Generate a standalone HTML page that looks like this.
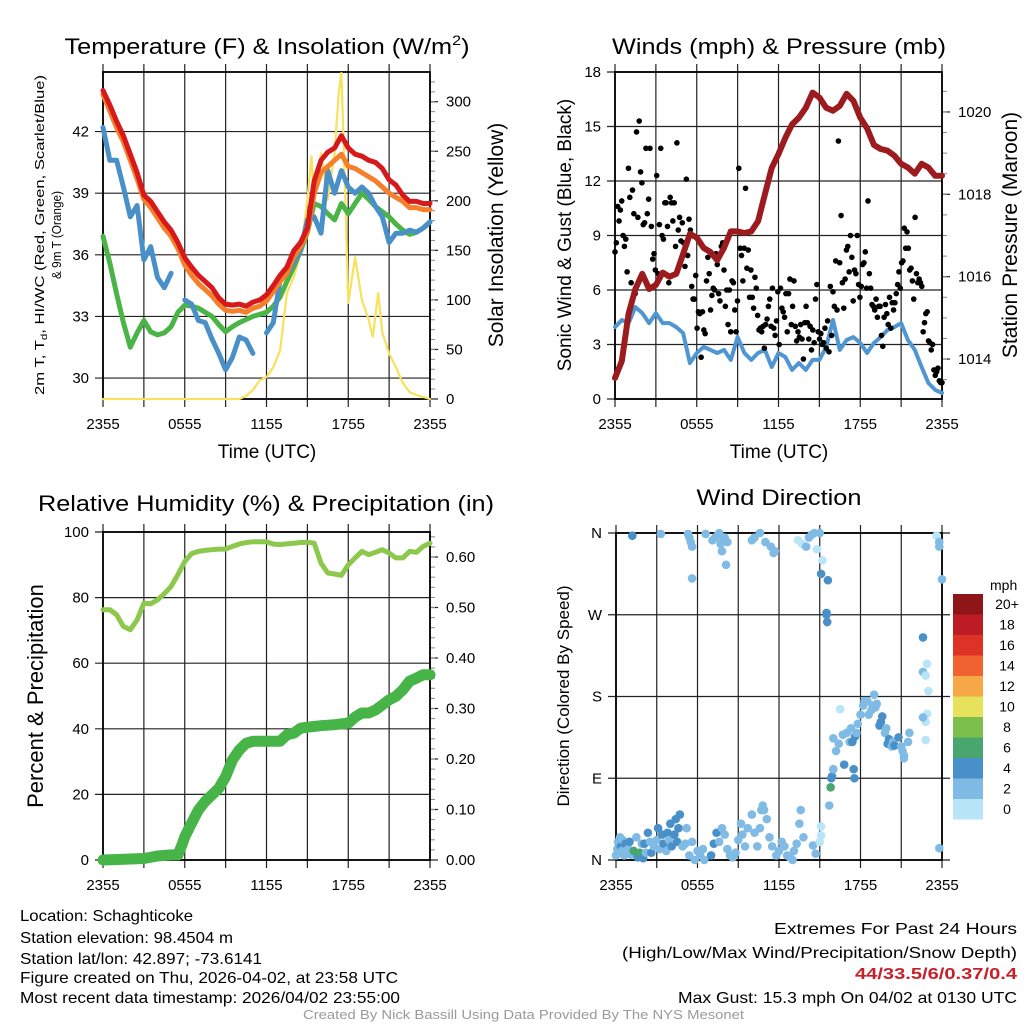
<!DOCTYPE html>
<html><head><meta charset="utf-8">
<style>
html,body{margin:0;padding:0;background:#fff;}
svg{display:block;font-family:"Liberation Sans",sans-serif;}
</style></head>
<body>
<svg id="fig" xmlns="http://www.w3.org/2000/svg" width="1024" height="1024" viewBox="0 0 1024 1024">
<rect x="0" y="0" width="1024" height="1024" fill="#fff"/>
<g id="layer"></g>
<text x="267" y="54" font-size="22" text-anchor="middle" textLength="405" lengthAdjust="spacingAndGlyphs">Temperature (F) &amp; Insolation (W/m<tspan font-size="14" dy="-9">2</tspan><tspan dy="9">)</tspan></text>
<text x="779" y="54" font-size="22" text-anchor="middle" textLength="334" lengthAdjust="spacingAndGlyphs">Winds (mph) &amp; Pressure (mb)</text>
<text x="266" y="511" font-size="22" text-anchor="middle" textLength="456" lengthAdjust="spacingAndGlyphs">Relative Humidity (%) &amp; Precipitation (in)</text>
<text x="779" y="505" font-size="22" text-anchor="middle" textLength="165" lengthAdjust="spacingAndGlyphs">Wind Direction</text>

<text transform="translate(44,235) rotate(-90)" font-size="13" text-anchor="middle" textLength="320" lengthAdjust="spacingAndGlyphs">2m T, T<tspan font-size="9" dy="3">d</tspan><tspan dy="-3">, HI/WC (Red, Green, Scarlet/Blue)</tspan></text>
<text transform="translate(61,235) rotate(-90)" font-size="13" text-anchor="middle" textLength="88" lengthAdjust="spacingAndGlyphs">&amp; 9m T (Orange)</text>
<text transform="translate(503,235) rotate(-90)" font-size="21" text-anchor="middle">Solar Insolation (Yellow)</text>
<text transform="translate(571,235) rotate(-90)" font-size="19" text-anchor="middle">Sonic Wind &amp; Gust (Blue, Black)</text>
<text transform="translate(1017,235) rotate(-90)" font-size="21" text-anchor="middle">Station Pressure (Maroon)</text>
<text transform="translate(43,696) rotate(-90)" font-size="22" text-anchor="middle">Percent &amp; Precipitation</text>
<text transform="translate(569,696) rotate(-90)" font-size="17" text-anchor="middle">Direction (Colored By Speed)</text>
<text x="267" y="458" font-size="19" text-anchor="middle">Time (UTC)</text>
<text x="779" y="458" font-size="19" text-anchor="middle">Time (UTC)</text>

<g font-size="16" lengthAdjust="spacingAndGlyphs">
<text x="20" y="921" textLength="173" lengthAdjust="spacingAndGlyphs">Location: Schaghticoke</text>
<text x="20" y="943" textLength="213" lengthAdjust="spacingAndGlyphs">Station elevation: 98.4504 m</text>
<text x="20" y="964" textLength="242" lengthAdjust="spacingAndGlyphs">Station lat/lon: 42.897; -73.6141</text>
<text x="20" y="983" textLength="378" lengthAdjust="spacingAndGlyphs">Figure created on Thu, 2026-04-02, at 23:58 UTC</text>
<text x="20" y="1003" textLength="380" lengthAdjust="spacingAndGlyphs">Most recent data timestamp: 2026/04/02 23:55:00</text>
<text x="774" y="934" textLength="243" lengthAdjust="spacingAndGlyphs">Extremes For Past 24 Hours</text>
<text x="622" y="958" textLength="395" lengthAdjust="spacingAndGlyphs">(High/Low/Max Wind/Precipitation/Snow Depth)</text>
<text x="855" y="979" fill="#c8202a" font-weight="bold" textLength="162" lengthAdjust="spacingAndGlyphs">44/33.5/6/0.37/0.4</text>
<text x="678" y="1003" textLength="339" lengthAdjust="spacingAndGlyphs">Max Gust: 15.3 mph On 04/02 at 0130 UTC</text>
<text x="303" y="1019" fill="#9a9a9a" font-size="13" textLength="441" lengthAdjust="spacingAndGlyphs">Created By Nick Bassill Using Data Provided By The NYS Mesonet</text>
</g>
</svg>
<script>
// ---------- DATA ----------
const xTickLabels = ["2355","0555","1155","1755","2355"];
const halfHours = [0,0.5,1,1.5,2,2.5,3,3.5,4,4.5,5,5.5,6,6.5,7,7.5,8,8.5,9,9.5,10,10.5,11,11.5,12,12.5,13,13.5,14,14.5,15,15.5,16,16.5,17,17.5,18,18.5,19,19.5,20,20.5,21,21.5,22,22.5,23,23.5,24];
const tempRed = [44.0,43.3,42.5,41.8,40.9,40.0,38.9,38.6,38.1,37.6,37.2,36.6,35.85,35.4,35.0,34.7,34.4,33.9,33.6,33.55,33.6,33.5,33.7,33.8,34.05,34.5,35.0,35.4,36.2,36.6,37.3,39.6,40.6,41.0,41.2,41.8,41.2,40.9,40.8,40.6,40.5,40.2,39.65,39.4,38.9,38.6,38.6,38.5,38.5];
const temp9mOrange = [43.8,43.0,42.2,41.5,40.6,39.7,38.7,38.3,37.8,37.3,36.9,36.3,35.5,35.0,34.6,34.3,34.0,33.6,33.3,33.25,33.3,33.2,33.4,33.5,33.75,34.2,34.7,35.1,35.9,36.4,37.1,39.0,40.0,40.3,40.6,40.9,40.3,40.2,40.0,39.8,39.6,39.3,39.0,38.8,38.6,38.3,38.3,38.2,38.2];
const dewGreen = [36.9,35.6,34.1,32.7,31.5,32.2,32.8,32.25,32.1,32.2,32.5,33.2,33.55,33.5,33.4,33.2,33.0,32.6,32.25,32.5,32.7,32.85,33.0,33.1,33.2,33.5,33.95,34.7,35.4,36.2,37.1,38.5,38.35,38.0,37.7,38.5,38.0,38.5,39.0,38.7,38.35,38.1,37.85,37.5,37.2,37.0,37.1,37.3,37.6];
const wcBlue = [42.2,40.6,40.6,39.3,37.85,38.4,35.75,36.4,34.9,34.4,35.1,null,33.8,33.6,32.8,32.7,31.9,31.2,30.4,31.0,32.0,31.85,31.2,null,32.2,32.7,34.8,35.1,35.6,36.25,37.7,37.85,37.05,40.1,39.0,40.1,39.3,39.0,39.3,39.0,38.35,37.85,36.6,37.05,37.05,37.2,37.1,37.3,37.6];
const solarHours = [0,10,10.5,11,11.5,12,12.5,13,13.5,14,14.5,15,15.3,15.5,16,16.5,17,17.3,17.5,17.7,18,18.5,19,19.5,19.8,20.2,20.5,21,21.5,22,22.5,23,24];
const solarVals  = [0,0,3,9,19,22,32,49,107,123,147,201,245,198,248,201,248,309,329,241,97,143,100,80,63,107,67,46,32,16,7,4,0];
const tempTicks = [30,33,36,39,42];
const solarTicks = [0,50,100,150,200,250,300];

const pressure = [1013.54,1013.95,1015.1,1015.7,1016.07,1015.7,1015.8,1016.1,1016.0,1016.07,1016.55,1017.04,1016.95,1016.7,1016.6,1016.4,1016.7,1017.1,1017.1,1017.06,1017.1,1017.35,1018.0,1018.64,1018.98,1019.37,1019.7,1019.86,1020.1,1020.47,1020.35,1020.1,1020.03,1020.15,1020.44,1020.27,1019.86,1019.6,1019.2,1019.1,1019.06,1018.94,1018.74,1018.65,1018.5,1018.74,1018.65,1018.45,1018.45];
const sonicWind = [3.96,4.35,4.18,5.06,4.73,4.18,4.73,4.18,4.18,3.96,3.63,1.98,2.53,2.86,2.70,2.53,2.7,2.15,3.41,2.53,2.15,2.53,2.70,1.76,2.53,2.31,1.6,1.98,1.6,2.15,2.15,2.86,4.35,2.7,3.25,3.41,3.08,2.53,3.08,3.41,3.8,3.96,4.18,3.25,2.7,1.76,0.88,0.5,0.33];
const gusts = [8.1,8.6,10.6,9.8,10.4,10.9,9.0,8.4,8.8,7.0,12.7,11.1,6.4,11.5,10.2,5.8,14.7,10.0,15.3,12.5,11.9,9.6,9.7,13.8,10.2,11.0,13.8,9.5,7.7,8.0,7.1,12.3,6.9,9.6,13.8,9.0,8.8,10.8,10.8,9.5,6.4,11.1,10.8,9.8,10.8,8.4,14.1,9.3,10.0,8.7,9.7,8.6,7.3,12.1,7.9,9.9,9.3,6.2,5.5,5.5,6.8,3.9,4.8,4.7,2.3,4.8,3.8,3.6,6.5,7.8,6.9,4.9,5.7,6.1,6.0,8.0,7.4,5.8,5.4,8.4,8.6,7.1,5.1,6.0,4.1,6.0,3.7,6.5,6.4,4.9,3.7,5.4,12.7,8.3,7.9,6.5,8.3,11.6,7.2,8.2,5.6,7.1,5.6,5.0,6.7,6.1,4.6,3.8,3.9,3.7,4.0,2.8,4.1,4.4,5.1,5.5,4.0,6.1,3.9,3.5,4.3,5.9,3.0,6.1,5.0,4.8,4.5,5.8,3.7,5.8,6.6,4.1,5.1,6.5,4.0,3.2,3.7,3.4,4.1,3.3,2.2,4.2,5.1,4.2,3.3,4.0,2.7,3.8,3.1,5.5,6.3,3.7,3.3,3.6,3.0,3.1,3.9,2.8,4.3,2.6,6.2,3.5,5.9,5.1,7.6,4.9,14.2,7.5,10.1,6.4,5.0,6.6,8.2,8.4,7.0,9.0,7.8,5.4,7.1,6.9,9.0,6.3,5.6,6.2,7.4,7.5,8.1,6.1,10.9,6.9,6.1,5.2,5.1,4.9,5.5,4.5,5.1,5.1,3.5,2.9,4.5,5.2,4.7,4.1,5.6,3.9,5.3,4.9,5.3,5.8,6.3,7.0,6.1,7.5,7.6,9.4,8.3,9.2,8.3,7.1,7.2,6.5,5.5,10.0,6.9,6.4,6.6,6.4,6.2,3.7,4.2,4.7,4.8,3.2,3.1,2.7,3.0,1.6,1.3,1.5,1.7,1.0,0.9,0.9];
const windTicks = [0,3,6,9,12,15,18];
const pressureTicks = [1014,1016,1018,1020];

const rhVals = [76.3,76.3,74.8,71.2,70.2,73.2,78.3,78.1,79.3,81.2,83.4,87,91,93.4,94.1,94.4,94.6,94.8,94.8,95.6,96.3,96.8,97.0,97,97,96.3,96.2,96.4,96.6,96.8,96.9,96.6,90.5,87.5,87.2,86.8,90.0,92.1,94.1,93.1,93.8,94.6,93.6,92.1,92.1,94.1,93.8,95.6,96.6];
const precipHours = [0,3,4,5,5.5,5.8,6,6.5,7,7.5,8,8.5,9,9.5,10,10.5,11,12,13,13.5,14,14.5,15,16,17,18,18.5,19,19.5,20,20.5,21,21.5,22,22.5,23,23.5,24];
const precipVals  = [0,0.003,0.008,0.010,0.010,0.03,0.046,0.073,0.099,0.116,0.129,0.142,0.165,0.198,0.218,0.231,0.235,0.235,0.235,0.248,0.251,0.261,0.263,0.266,0.268,0.271,0.283,0.291,0.291,0.297,0.307,0.317,0.324,0.337,0.354,0.360,0.367,0.367];
const rhTicks = [0,20,40,60,80,100];
const precipTicks = ["0.00","0.10","0.20","0.30","0.40","0.50","0.60"];

const dirHours = [0.0,0.1,0.15,0.2,0.3,0.35,0.45,0.5,0.6,0.7,0.8,0.9,1.0,1.1,1.3,1.5,1.6,1.75,1.9,2.0,2.1,2.2,2.35,2.5,2.6,2.8,3.0,3.1,3.2,3.4,3.5,3.7,3.8,3.9,4.0,4.1,4.3,4.4,4.5,4.6,4.7,4.9,5.1,5.2,5.4,5.6,5.8,6.0,6.2,6.4,6.5,7.0,7.2,7.4,7.6,7.8,8.0,8.2,8.4,8.6,8.8,9.0,9.2,9.3,9.5,9.7,10.0,10.2,10.4,10.6,10.7,10.8,10.9,11.1,11.3,11.5,11.8,12.0,12.2,12.4,12.6,12.8,13.0,13.1,13.3,13.5,13.6,13.8,14.5,14.7,15.0,15.1,15.1,
 1.2,3.3,5.3,5.4,5.5,5.6,5.6,6.6,7.1,7.3,7.5,7.6,7.7,7.8,7.9,8.0,8.1,8.2,10.0,10.2,10.6,11.0,11.4,11.6,11.7,13.4,13.7,14.0,14.2,14.4,14.6,14.8,15.0,15.1,15.2,15.6,15.5,15.5,15.55,
 15.7,15.8,15.85,15.9,16.0,16.0,16.2,16.4,16.5,16.7,16.8,17.0,17.2,17.3,17.4,17.5,17.55,17.6,17.7,17.8,18.0,18.2,18.3,18.5,18.6,18.8,18.9,19.0,19.1,19.2,19.4,19.5,19.6,19.8,19.9,20.0,20.1,20.3,20.4,20.5,20.8,21.0,21.1,21.2,21.2,21.5,21.6,
 22.6,22.6,22.8,22.9,23.0,22.9,22.8,22.8,22.6,23.6,23.8,23.8,24.0,23.8];
const dirVals = [5,12,20,8,25,15,10,22,5,18,8,12,20,6,10,25,3,8,18,2,18,8,30,20,8,15,22,35,12,28,18,10,30,22,40,15,28,45,20,35,50,15,18,35,5,20,0,10,5,12,0,5,18,30,20,35,28,12,5,3,8,22,40,28,15,35,50,30,15,35,55,60,55,45,25,15,5,10,20,15,5,3,0,10,18,40,55,25,16,7,20,27,37,
 357,359,359,355,350,345,310,359,352,355,358,360,348,340,352,355,325,350,352,355,360,350,345,338,340,352,348,345,355,358,360,342,360,315,330,308,270,272,262,
 60,80,90,92,100,134,120,128,166,138,105,140,130,145,130,100,90,136,140,150,160,170,175,175,160,165,170,182,168,172,148,152,158,140,145,128,133,125,130,126,135,125,120,115,112,130,140,
 245,207,203,216,186,161,152,132,157,357,350,345,309,13];
const dirSpeeds = [3,3,3.5,3,3,4.2,3,3.5,3,4,3,3.5,4,3,6.5,3,4,6.5,3,4,4.5,3,4.5,3,4,3,3.5,4.5,3,4,4.2,3,4.2,3.5,4.5,4,4.5,4,4,4.5,4.5,2.5,2.5,2,2.5,2.5,2.5,2.5,2.5,2.5,2.5,4,4,4,3,2.5,3,2.5,3,2.5,2,2,2,3,2.5,3,3,3,2,3,3.5,2.5,3,2.5,2.5,2.5,2,2.5,3,3,2.5,2.5,2.5,2.5,3,2,2,3,2,2,1.5,1.5,1.5,
 4.5,2.5,2.5,2.5,2.5,2.5,2.5,2.5,2.5,2.5,2.5,2.5,2.5,2.5,3,2.5,2.5,2.5,2.5,2.5,3,2.5,2.5,2.5,2.5,1.5,1.5,2.5,2.5,2.5,3,1.5,2.5,4,1.5,4,4,4,4.5,
 3,7,4,4,3,3,3,3,1.5,3,4.5,3,3,3,4.5,4.5,4.5,4.5,3,3,3,3,3,3,3,3,3,3,3,3,4.5,4.5,4.5,3,3,4.5,4.5,3,3,4.5,4.5,3,3,3,3,3,3,
 4,3,1.5,1.5,1.5,1.5,1.5,1.5,3,1.5,3,3,3,2];
const dirTickLabels = ["N","E","S","W","N"];
const dirTickValues = [0,90,180,270,360];
const speedBinLabels = ["20+","18","16","14","12","10","8","6","4","2","0"];
const speedBinColors = ["#8f1519","#bd1c24","#dd3327","#f0622f","#f6a847","#e7e25c","#7cc04b","#49a66e","#4a90c8","#80bbe5","#b9e5f8"];

// ---------- DRAW ----------
const NS="http://www.w3.org/2000/svg";
const layer=document.getElementById('layer');
function mk(tag,attrs,parent){const e=document.createElementNS(NS,tag);for(const k in attrs)e.setAttribute(k,attrs[k]);(parent||layer).appendChild(e);return e;}
function panel(x0,y0,w,h){return {x0,y0,w,h,xs:t=>x0+t/24*w};}
function lin(d0,d1,p0,p1){return v=>p0+(v-d0)/(d1-d0)*(p1-p0);}

function frame(P,name,yTicksL,ysL,labelsL,yTicksR,ysR,labelsR,minorR){
  const g=mk('g',{});
  
  
  for(let i=0;i<=8;i++){const x=P.xs(i*3);const l=mk('line',{x1:x,x2:x,y1:P.y0-8,y2:P.y0+P.h+8,stroke:'#222','stroke-width':1.2},g);
    }
  yTicksL.forEach((v,i)=>{const y=ysL(v);const l=mk('line',{x1:P.x0-8,x2:P.x0+P.w+(yTicksR?0:8),y1:y,y2:y,stroke:'#222','stroke-width':1.2},g);
    
    const t=mk('text',{x:P.x0-14,y:y+5,'font-size':15,'text-anchor':'end'},g);t.textContent=labelsL[i];
    });
  if(yTicksR){yTicksR.forEach((v,i)=>{const y=ysR(v);mk('line',{x1:P.x0+P.w,x2:P.x0+P.w+8,y1:y,y2:y,stroke:'#222','stroke-width':1.2},g);
    const t=mk('text',{x:P.x0+P.w+16,y:y+5,'font-size':15},g);t.textContent=labelsR[i];
    });
    if(minorR){minorR.forEach(v=>{const y=ysR(v);mk('line',{x1:P.x0+P.w,x2:P.x0+P.w+5,y1:y,y2:y,stroke:'#888','stroke-width':1},g);});}}
  mk('rect',{x:P.x0,y:P.y0,width:P.w,height:P.h,fill:'none',stroke:'#000','stroke-width':1.8},g);
  xTickLabels.forEach((s,i)=>{const t=mk('text',{x:P.xs(i*6),y:P.y0+P.h+30,'font-size':15,'text-anchor':'middle'},g);t.textContent=s;
    });
}
function line(hrs,vals,P,ys,color,width,name){
  let segs=[],cur=[];
  vals.forEach((v,i)=>{if(v===null){if(cur.length)segs.push(cur);cur=[];}else cur.push(P.xs(hrs[i]).toFixed(1)+','+ys(v).toFixed(1));});
  if(cur.length)segs.push(cur);
  segs.forEach(s=>{const p=mk('polyline',{points:s.join(' '),fill:'none',stroke:color,'stroke-width':width,'stroke-linejoin':'round','stroke-linecap':'round'});
    });
}

const P1=panel(103,72,327,327);
const yT=lin(28.98,44.9,399,72), yS=lin(0,330,399,72);
const solarMinor=[];for(let v=10;v<330;v+=10)solarMinor.push(v);
frame(P1,'temperature',tempTicks,yT,tempTicks.map(String),solarTicks,yS,solarTicks.map(String),solarMinor);
line(solarHours,solarVals,P1,yS,'#f8e15b',2.2,'solar-insolation-line');
line(halfHours,dewGreen,P1,yT,'#4bb446',5,'dewpoint-line');
line(halfHours,wcBlue,P1,yT,'#4a90c8',5,'heat-index-windchill-line');
line(halfHours,temp9mOrange,P1,yT,'#f57f2a',5,'temp-9m-line');
line(halfHours,tempRed,P1,yT,'#d7191c',5,'temp-2m-line');

const P2=panel(615,72,327,327);
const yW=lin(0,18,399,72), yP=lin(1013.03,1020.97,399,72);
const pMinor=[];for(let v=1013.5;v<1021;v+=0.5)pMinor.push(v);
frame(P2,'winds',windTicks,yW,windTicks.map(String),pressureTicks,yP,pressureTicks.map(String),pMinor);
line(halfHours,sonicWind,P2,yW,'#4f96d2',4,'sonic-wind-line');
gusts.forEach((v,i)=>{const c=mk('circle',{cx:P2.xs(i*24/(gusts.length-1)),cy:yW(v),r:2.8,fill:'#000'});
  });
line(halfHours,pressure,P2,yP,'#9b1b1f',6,'pressure-line');

const P3=panel(103,532,327,328);
const yR=lin(0,100,860,532), yPr=lin(0,0.6495,860,532);
const prMinor=[];for(let v=0.02;v<0.65;v+=0.02)prMinor.push(v);
frame(P3,'humidity',rhTicks,yR,rhTicks.map(String),precipTicks.map(Number),yPr,precipTicks,prMinor);
line(halfHours,rhVals,P3,yR,'#8cc84b',5,'relative-humidity-line');
line(precipHours,precipVals,P3,yPr,'#46b446',11,'precipitation-line');

const P4=panel(616,533,326,327);
const yD=lin(0,360,860,533);
frame(P4,'direction',dirTickValues,yD,dirTickLabels,null);
function speedColor(s){const idx=Math.min(10,Math.floor(s/2));return speedBinColors[10-idx];}
dirVals.forEach((d,i)=>{const c=mk('circle',{cx:P4.xs(dirHours[i]),cy:yD(d),r:4.3,fill:speedColor(dirSpeeds[i])});
  });

const cb=mk('g',{});


const cbt=mk('text',{x:990,y:590,'font-size':14},cb);cbt.textContent='mph';
speedBinLabels.forEach((lab,i)=>{const y=594+i*20.5;
  const r=mk('rect',{x:953,y:y,width:30,height:20.5,fill:speedBinColors[i]},cb);
  
  const t=mk('text',{x:1007,y:y+15,'font-size':14,'text-anchor':'middle'},cb);t.textContent=lab;
  });
</script>
</body></html>
